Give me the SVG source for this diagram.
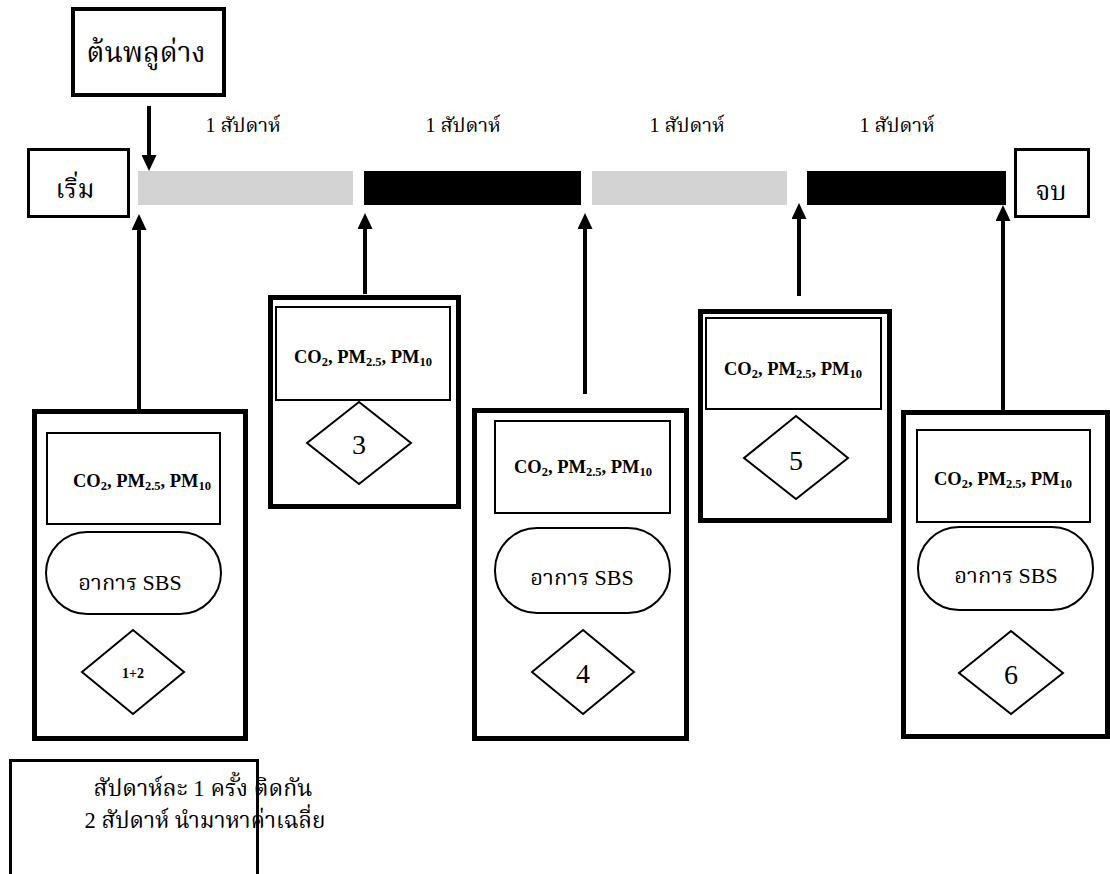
<svg xmlns="http://www.w3.org/2000/svg" width="1110" height="874" viewBox="0 0 1110 874">
<style>
.frame{fill:#fff;stroke:#000;stroke-width:5}
.inner{fill:#fff;stroke:#000;stroke-width:2}
.thin{fill:#fff;stroke:#000;stroke-width:2}
.lbl{fill:#fff;stroke:#000;stroke-width:3}
.conn{stroke:#000;stroke-width:4;fill:none}
.th{font-family:'Liberation Serif','Noto Serif Thai','Noto Sans Thai','Noto Sans',serif;fill:#000}
.bold{font-family:'Liberation Serif',serif;font-weight:bold;fill:#000;font-size:18.5px}
.num{font-family:'Liberation Serif',serif;fill:#000}
</style>
<defs>
<marker id="ah" markerUnits="userSpaceOnUse" markerWidth="16" markerHeight="15" refX="1" refY="7.5" orient="auto">
<path d="M0,0 L16,7.5 L0,15 z" fill="#000"/>
</marker>
</defs>
<rect width="1110" height="874" fill="#fff"/>

<g id="timeline">
<rect x="138" y="171" width="215" height="34" fill="#d3d3d3"/>
<rect x="364" y="171" width="217" height="34" fill="#000"/>
<rect x="592" y="171" width="195" height="34" fill="#d3d3d3"/>
<rect x="807" y="171" width="199" height="34" fill="#000"/>
<text class="th" x="243" y="132" font-size="20" text-anchor="middle">1 สัปดาห์</text>
<text class="th" x="463" y="132" font-size="20" text-anchor="middle">1 สัปดาห์</text>
<text class="th" x="687" y="132" font-size="20" text-anchor="middle">1 สัปดาห์</text>
<text class="th" x="897" y="132" font-size="20" text-anchor="middle">1 สัปดาห์</text>
</g>

<g id="plant">
<rect x="73" y="9" width="151" height="86" fill="#fff" stroke="#000" stroke-width="4"/>
<text class="th" x="146" y="62" font-size="28" text-anchor="middle">ต้นพลูด่าง</text>
</g>

<g id="start">
<rect class="lbl" x="28.5" y="149.5" width="100" height="67"/>
<text class="th" x="75" y="198" font-size="26" text-anchor="middle">เริ่ม</text>
</g>

<g id="end">
<rect class="lbl" x="1015.5" y="149.5" width="73" height="67"/>
<text class="th" x="1051" y="200" font-size="26" text-anchor="middle">จบ</text>
</g>

<g id="connectors">
<line class="conn" x1="149" y1="106" x2="149" y2="156" marker-end="url(#ah)"/>
<line class="conn" x1="139" y1="409" x2="139" y2="229" marker-end="url(#ah)"/>
<line class="conn" x1="365" y1="294" x2="365" y2="228" marker-end="url(#ah)"/>
<line class="conn" x1="585" y1="394" x2="585" y2="228" marker-end="url(#ah)"/>
<line class="conn" x1="799" y1="296" x2="799" y2="218" marker-end="url(#ah)"/>
<line class="conn" x1="1003" y1="410" x2="1003" y2="220" marker-end="url(#ah)"/>
</g>

<g id="week12">
<rect class="frame" x="34.5" y="411.5" width="211" height="327"/>
<rect class="inner" x="47" y="433" width="173" height="91"/>
<text class="bold" x="142" y="487" text-anchor="middle">CO<tspan font-size="12.5" dy="3">2</tspan><tspan dy="-3">, PM</tspan><tspan font-size="12.5" dy="3">2.5</tspan><tspan dy="-3">, PM</tspan><tspan font-size="12.5" dy="3">10</tspan></text>
<rect class="thin" x="46" y="532" width="175" height="82" rx="41"/>
<text class="th" x="130" y="590" font-size="22" text-anchor="middle">อาการ SBS</text>
<polygon class="thin" points="133,630 184,672 133,714 82,672"/>
<text class="bold" x="133" y="678" font-size="14" text-anchor="middle" style="font-size:14px">1+2</text>
</g>

<g id="week3">
<rect class="frame" x="270.5" y="297.5" width="188" height="209"/>
<rect class="inner" x="276" y="307" width="174" height="93" stroke-width="3"/>
<text class="bold" x="363" y="363" text-anchor="middle">CO<tspan font-size="12.5" dy="3">2</tspan><tspan dy="-3">, PM</tspan><tspan font-size="12.5" dy="3">2.5</tspan><tspan dy="-3">, PM</tspan><tspan font-size="12.5" dy="3">10</tspan></text>
<polygon class="thin" points="359,402 411,443 359,484 307,443"/>
<text class="num" x="359" y="454" font-size="28" text-anchor="middle">3</text>
</g>

<g id="week4">
<rect class="frame" x="474.5" y="410.5" width="212" height="328"/>
<rect class="inner" x="495" y="421" width="175" height="92"/>
<text class="bold" x="583" y="473" text-anchor="middle">CO<tspan font-size="12.5" dy="3">2</tspan><tspan dy="-3">, PM</tspan><tspan font-size="12.5" dy="3">2.5</tspan><tspan dy="-3">, PM</tspan><tspan font-size="12.5" dy="3">10</tspan></text>
<rect class="thin" x="495" y="528" width="175" height="85" rx="42"/>
<text class="th" x="582" y="585" font-size="22" text-anchor="middle">อาการ SBS</text>
<polygon class="thin" points="583,630 634,672 583,714 532,672"/>
<text class="num" x="583" y="683" font-size="28" text-anchor="middle">4</text>
</g>

<g id="week5">
<rect class="frame" x="700.5" y="311.5" width="189" height="209"/>
<rect class="inner" x="706" y="318" width="175" height="91" stroke-width="3"/>
<text class="bold" x="793" y="375" text-anchor="middle">CO<tspan font-size="12.5" dy="3">2</tspan><tspan dy="-3">, PM</tspan><tspan font-size="12.5" dy="3">2.5</tspan><tspan dy="-3">, PM</tspan><tspan font-size="12.5" dy="3">10</tspan></text>
<polygon class="thin" points="796,416 848,458 796,499 744,458"/>
<text class="num" x="796" y="470" font-size="28" text-anchor="middle">5</text>
</g>

<g id="week6">
<rect class="frame" x="903.5" y="412.5" width="204" height="324"/>
<rect class="inner" x="917" y="430" width="173" height="92"/>
<text class="bold" x="1003" y="485" text-anchor="middle">CO<tspan font-size="12.5" dy="3">2</tspan><tspan dy="-3">, PM</tspan><tspan font-size="12.5" dy="3">2.5</tspan><tspan dy="-3">, PM</tspan><tspan font-size="12.5" dy="3">10</tspan></text>
<rect class="thin" x="918" y="527" width="175" height="83" rx="41"/>
<text class="th" x="1006" y="583" font-size="22" text-anchor="middle">อาการ SBS</text>
<polygon class="thin" points="1011,631 1063,673 1011,714 959,673"/>
<text class="num" x="1011" y="684" font-size="28" text-anchor="middle">6</text>
</g>

<g id="note">
<rect x="10.5" y="760.5" width="247" height="130" fill="none" stroke="#000" stroke-width="3"/>
<text class="th" x="203" y="796" font-size="23" text-anchor="middle">สัปดาห์ละ 1 ครั้ง ติดกัน</text>
<text class="th" x="205" y="828" font-size="22.5" text-anchor="middle">2 สัปดาห์ นำมาหาค่าเฉลี่ย</text>
</g>
</svg>
